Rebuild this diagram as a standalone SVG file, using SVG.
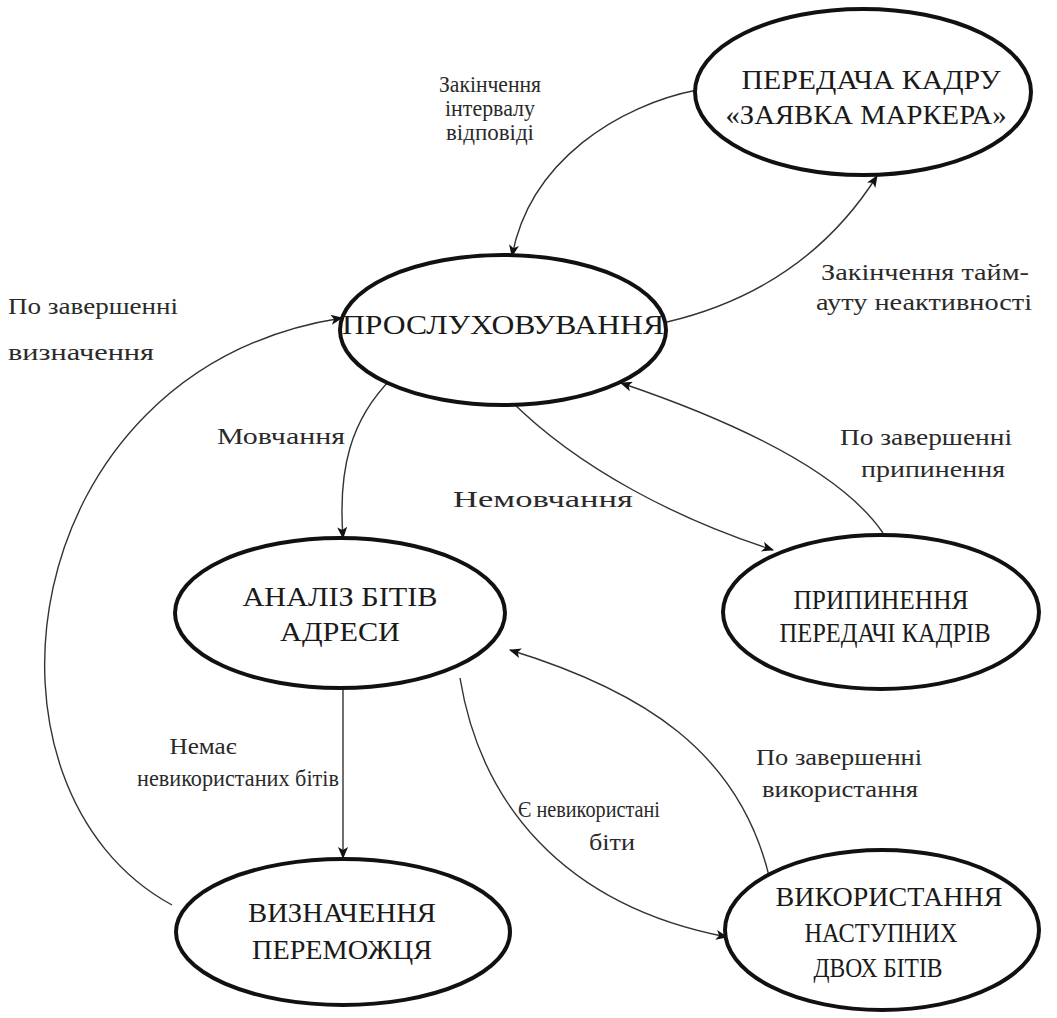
<svg xmlns="http://www.w3.org/2000/svg" width="1057" height="1018" viewBox="0 0 1057 1018" font-family="'Liberation Serif', 'Times New Roman', 'DejaVu Serif', serif">
  <defs>
    <marker id="arrow" viewBox="0 0 12 10" refX="11" refY="5" markerWidth="12" markerHeight="10" markerUnits="userSpaceOnUse" orient="auto">
      <path d="M0,0 L12,5 L0,10 L3,5 Z" fill="#111"/>
    </marker>
  </defs>
  <style>
    .node ellipse { fill: #fff; stroke: #111; stroke-width: 4; }
    .node text { font-size: 27px; fill: #1a1a1a; text-anchor: middle; }
    .edge { fill: none; stroke: #333; stroke-width: 1.4; marker-end: url(#arrow); }
    .lbl { font-size: 24px; fill: #2a2a2a; text-anchor: middle; }
    .lbl-left { font-size: 24px; fill: #2a2a2a; }
  </style>
  <rect width="1057" height="1018" fill="#fff"/>

  <!-- transitions between states -->
  <g id="connectors">
    <path class="edge" d="M697,90 C620,105 530,160 512,256"/>
    <path class="edge" d="M667,322 C760,300 830,250 877,176"/>
    <path class="edge" d="M392,378 C350,420 338,470 343,538"/>
    <path class="edge" d="M510,400 C580,470 680,520 773,550"/>
    <path class="edge" d="M883,533 C840,470 730,420 621,383"/>
    <path class="edge" d="M343,688 L343,858"/>
    <path class="edge" d="M460,678 C480,800 560,905 727,937"/>
    <path class="edge" d="M770,880 C740,750 640,690 510,650"/>
    <path class="edge" d="M172,905 C-40,790 10,370 342,318"/>
  </g>

  <!-- transition conditions -->
  <g id="labels">
    <text class="lbl" x="490" y="92" textLength="102" lengthAdjust="spacingAndGlyphs">Закінчення</text>
    <text class="lbl" x="490" y="116" textLength="90" lengthAdjust="spacingAndGlyphs">інтервалу</text>
    <text class="lbl" x="490" y="140" textLength="88" lengthAdjust="spacingAndGlyphs">відповіді</text>
    <text class="lbl" x="925" y="280" textLength="208" lengthAdjust="spacingAndGlyphs">Закінчення тайм-</text>
    <text class="lbl" x="924" y="310" textLength="216" lengthAdjust="spacingAndGlyphs">ауту неактивності</text>
    <text class="lbl-left" x="8" y="314" textLength="170" lengthAdjust="spacingAndGlyphs">По завершенні</text>
    <text class="lbl-left" x="8" y="360" textLength="146" lengthAdjust="spacingAndGlyphs">визначення</text>
    <text class="lbl" x="281" y="444" textLength="128" lengthAdjust="spacingAndGlyphs">Мовчання</text>
    <text class="lbl" x="543" y="507" textLength="180" lengthAdjust="spacingAndGlyphs">Немовчання</text>
    <text class="lbl" x="926" y="445" textLength="172" lengthAdjust="spacingAndGlyphs">По завершенні</text>
    <text class="lbl" x="933" y="477" textLength="144" lengthAdjust="spacingAndGlyphs">припинення</text>
    <text class="lbl" x="203" y="754" textLength="67" lengthAdjust="spacingAndGlyphs">Немає</text>
    <text class="lbl" x="238" y="786" textLength="202" lengthAdjust="spacingAndGlyphs">невикористаних бітів</text>
    <text class="lbl" x="589" y="817" textLength="142" lengthAdjust="spacingAndGlyphs">Є невикористані</text>
    <text class="lbl" x="612" y="850" textLength="46" lengthAdjust="spacingAndGlyphs">біти</text>
    <text class="lbl" x="839" y="765" textLength="166" lengthAdjust="spacingAndGlyphs">По завершенні</text>
    <text class="lbl" x="840" y="797" textLength="156" lengthAdjust="spacingAndGlyphs">використання</text>
  </g>

  <!-- states -->
  <g id="node-token-request" class="node">
    <ellipse cx="863" cy="92" rx="168" ry="83"/>
    <text x="871" y="89" textLength="259" lengthAdjust="spacingAndGlyphs">ПЕРЕДАЧА КАДРУ</text>
    <text x="866" y="124" textLength="281" lengthAdjust="spacingAndGlyphs">«ЗАЯВКА МАРКЕРА»</text>
  </g>
  <g id="node-listening" class="node">
    <ellipse cx="503" cy="330" rx="163" ry="75"/>
    <text x="503" y="334" textLength="322" lengthAdjust="spacingAndGlyphs">ПРОСЛУХОВУВАННЯ</text>
  </g>
  <g id="node-address-bits" class="node">
    <ellipse cx="340" cy="613" rx="165" ry="75"/>
    <text x="340" y="606" textLength="195" lengthAdjust="spacingAndGlyphs">АНАЛІЗ БІТІВ</text>
    <text x="340" y="641" textLength="120" lengthAdjust="spacingAndGlyphs">АДРЕСИ</text>
  </g>
  <g id="node-stop-frames" class="node">
    <ellipse cx="881" cy="612" rx="158" ry="77"/>
    <text x="881" y="609" textLength="175" lengthAdjust="spacingAndGlyphs">ПРИПИНЕННЯ</text>
    <text x="885" y="642" textLength="211" lengthAdjust="spacingAndGlyphs">ПЕРЕДАЧІ КАДРІВ</text>
  </g>
  <g id="node-winner" class="node">
    <ellipse cx="343" cy="932" rx="167" ry="73"/>
    <text x="342" y="922" textLength="188" lengthAdjust="spacingAndGlyphs">ВИЗНАЧЕННЯ</text>
    <text x="342" y="959" textLength="180" lengthAdjust="spacingAndGlyphs">ПЕРЕМОЖЦЯ</text>
  </g>
  <g id="node-next-bits" class="node">
    <ellipse cx="882" cy="930" rx="157" ry="80"/>
    <text x="889" y="906" textLength="227" lengthAdjust="spacingAndGlyphs">ВИКОРИСТАННЯ</text>
    <text x="881" y="942" textLength="153" lengthAdjust="spacingAndGlyphs">НАСТУПНИХ</text>
    <text x="878" y="977" textLength="129" lengthAdjust="spacingAndGlyphs">ДВОХ БІТІВ</text>
  </g>
</svg>
